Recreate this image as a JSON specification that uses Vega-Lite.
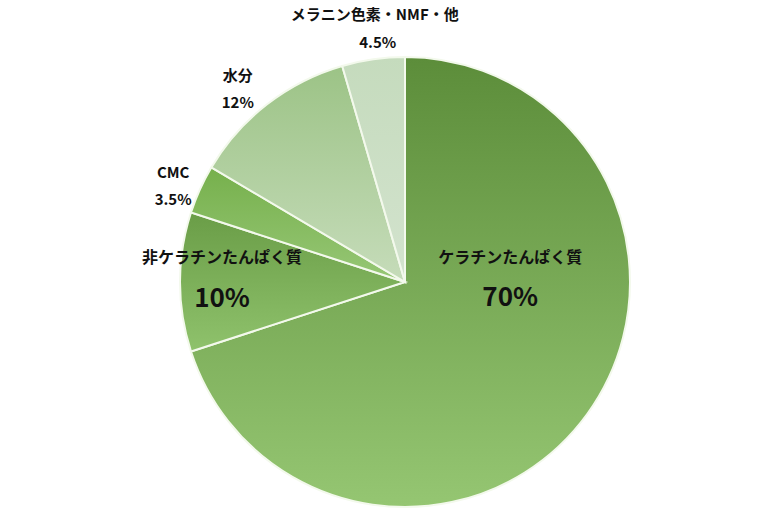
{
  "$schema": "https://vega.github.io/schema/vega-lite/v6.json",
  "description": "毛髪の成分構成",
  "autosize": "none",
  "width": 450,
  "height": 450,
  "padding": {"left": 180, "top": 57, "right": 140, "bottom": 3},
  "background": "white",
  "config": {"view": {"stroke": null}},
  "data": {
    "values": [
      {"成分": "ケラチンたんぱく質", "割合": 0.70, "順": 1},
      {"成分": "非ケラチンたんぱく質", "割合": 0.10, "順": 2},
      {"成分": "CMC", "割合": 0.035, "順": 3},
      {"成分": "水分", "割合": 0.12, "順": 4},
      {"成分": "メラニン色素・NMF・他", "割合": 0.045, "順": 5}
    ]
  },
  "transform": [
    {"stack": "割合", "groupby": [], "sort": [{"field": "順", "order": "ascending"}], "as": ["開始", "終了"]}
  ],
  "layer": [
    {
      "transform": [{"filter": "datum['成分'] === 'ケラチンたんぱく質'"}],
      "mark": {
        "type": "arc", "stroke": "#f3f9ec", "strokeWidth": 2,
        "fill": {"gradient": "linear", "x1": 0, "y1": 0, "x2": 0, "y2": 1,
          "stops": [{"offset": 0, "color": "#5c8d3a"}, {"offset": 1, "color": "#95c672"}]}
      },
      "encoding": {
        "theta": {"field": "開始", "type": "quantitative", "scale": {"domain": [0, 1]}},
        "theta2": {"field": "終了"}
      }
    },
    {
      "transform": [{"filter": "datum['成分'] === '非ケラチンたんぱく質'"}],
      "mark": {
        "type": "arc", "stroke": "#f3f9ec", "strokeWidth": 2,
        "fill": {"gradient": "linear", "x1": 0, "y1": 0, "x2": 0, "y2": 1,
          "stops": [{"offset": 0, "color": "#6a9d47"}, {"offset": 1, "color": "#8fc26c"}]}
      },
      "encoding": {
        "theta": {"field": "開始", "type": "quantitative", "scale": {"domain": [0, 1]}},
        "theta2": {"field": "終了"}
      }
    },
    {
      "transform": [{"filter": "datum['成分'] === 'CMC'"}],
      "mark": {
        "type": "arc", "stroke": "#f3f9ec", "strokeWidth": 2,
        "fill": {"gradient": "linear", "x1": 0, "y1": 0, "x2": 0, "y2": 1,
          "stops": [{"offset": 0, "color": "#76b04c"}, {"offset": 1, "color": "#97c776"}]}
      },
      "encoding": {
        "theta": {"field": "開始", "type": "quantitative", "scale": {"domain": [0, 1]}},
        "theta2": {"field": "終了"}
      }
    },
    {
      "transform": [{"filter": "datum['成分'] === '水分'"}],
      "mark": {
        "type": "arc", "stroke": "#f3f9ec", "strokeWidth": 2,
        "fill": {"gradient": "linear", "x1": 0, "y1": 0, "x2": 0, "y2": 1,
          "stops": [{"offset": 0, "color": "#9cc386"}, {"offset": 1, "color": "#c6dcba"}]}
      },
      "encoding": {
        "theta": {"field": "開始", "type": "quantitative", "scale": {"domain": [0, 1]}},
        "theta2": {"field": "終了"}
      }
    },
    {
      "transform": [{"filter": "datum['成分'] === 'メラニン色素・NMF・他'"}],
      "mark": {
        "type": "arc", "stroke": "#f3f9ec", "strokeWidth": 2,
        "fill": {"gradient": "linear", "x1": 0, "y1": 0, "x2": 0, "y2": 1,
          "stops": [{"offset": 0, "color": "#c5dbbd"}, {"offset": 1, "color": "#d3e3ce"}]}
      },
      "encoding": {
        "theta": {"field": "開始", "type": "quantitative", "scale": {"domain": [0, 1]}},
        "theta2": {"field": "終了"}
      }
    },
    {
      "mark": {"type": "text", "radius": 130, "dy": -100, "font": "Noto Sans CJK JP", "fontSize": 16, "fontWeight": "bold", "color": "#111111"},
      "encoding": {
        "theta": {"field": "割合", "type": "quantitative", "stack": true, "scale": {"domain": [0, 1]}},
        "order": {"field": "順"},
        "text": {"condition": {"test": "datum['成分'] === 'ケラチンたんぱく質'", "field": "成分"}, "value": ""}
      }
    },
    {
      "mark": {"type": "text", "radius": 130, "dy": -60, "font": "Noto Sans CJK JP", "fontSize": 26, "fontWeight": "bold", "color": "#111111"},
      "encoding": {
        "theta": {"field": "割合", "type": "quantitative", "stack": true, "scale": {"domain": [0, 1]}},
        "order": {"field": "順"},
        "text": {"condition": {"test": "datum['成分'] === 'ケラチンたんぱく質'", "field": "割合", "type": "quantitative", "format": ".0%"}, "value": ""}
      }
    },
    {
      "mark": {"type": "text", "radius": 183, "dy": -24, "font": "Noto Sans CJK JP", "fontSize": 16, "fontWeight": "bold", "color": "#111111"},
      "encoding": {
        "theta": {"field": "割合", "type": "quantitative", "stack": true, "scale": {"domain": [0, 1]}},
        "order": {"field": "順"},
        "text": {"condition": {"test": "datum['成分'] === '非ケラチンたんぱく質'", "field": "成分"}, "value": ""}
      }
    },
    {
      "mark": {"type": "text", "radius": 183, "dy": 17, "font": "Noto Sans CJK JP", "fontSize": 26, "fontWeight": "bold", "color": "#111111"},
      "encoding": {
        "theta": {"field": "割合", "type": "quantitative", "stack": true, "scale": {"domain": [0, 1]}},
        "order": {"field": "順"},
        "text": {"condition": {"test": "datum['成分'] === '非ケラチンたんぱく質'", "field": "割合", "type": "quantitative", "format": ".0%"}, "value": ""}
      }
    },
    {
      "mark": {"type": "text", "radius": 250, "dx": -4, "dy": -6, "font": "Noto Sans CJK JP", "fontSize": 15, "fontWeight": "bold", "color": "#111111"},
      "encoding": {
        "theta": {"field": "割合", "type": "quantitative", "stack": true, "scale": {"domain": [0, 1]}},
        "order": {"field": "順"},
        "text": {"condition": {"test": "datum['成分'] === 'CMC'", "field": "成分"}, "value": ""}
      }
    },
    {
      "mark": {"type": "text", "radius": 250, "dx": -4, "dy": 21, "font": "Noto Sans CJK JP", "fontSize": 15, "fontWeight": "bold", "color": "#111111"},
      "encoding": {
        "theta": {"field": "割合", "type": "quantitative", "stack": true, "scale": {"domain": [0, 1]}},
        "order": {"field": "順"},
        "text": {"condition": {"test": "datum['成分'] === 'CMC'", "field": "割合", "type": "quantitative", "format": ".1%"}, "value": ""}
      }
    },
    {
      "mark": {"type": "text", "radius": 250, "dx": -14, "dy": -8, "font": "Noto Sans CJK JP", "fontSize": 15, "fontWeight": "bold", "color": "#111111"},
      "encoding": {
        "theta": {"field": "割合", "type": "quantitative", "stack": true, "scale": {"domain": [0, 1]}},
        "order": {"field": "順"},
        "text": {"condition": {"test": "datum['成分'] === '水分'", "field": "成分"}, "value": ""}
      }
    },
    {
      "mark": {"type": "text", "radius": 250, "dx": -14, "dy": 19, "font": "Noto Sans CJK JP", "fontSize": 15, "fontWeight": "bold", "color": "#111111"},
      "encoding": {
        "theta": {"field": "割合", "type": "quantitative", "stack": true, "scale": {"domain": [0, 1]}},
        "order": {"field": "順"},
        "text": {"condition": {"test": "datum['成分'] === '水分'", "field": "割合", "type": "quantitative", "format": ".0%"}, "value": ""}
      }
    },
    {
      "mark": {"type": "text", "radius": 250, "dx": 5, "dy": -19, "font": "Noto Sans CJK JP", "fontSize": 15, "fontWeight": "bold", "color": "#111111"},
      "encoding": {
        "theta": {"field": "割合", "type": "quantitative", "stack": true, "scale": {"domain": [0, 1]}},
        "order": {"field": "順"},
        "text": {"condition": {"test": "datum['成分'] === 'メラニン色素・NMF・他'", "field": "成分"}, "value": ""}
      }
    },
    {
      "mark": {"type": "text", "radius": 250, "dx": 8, "dy": 9, "font": "Noto Sans CJK JP", "fontSize": 15, "fontWeight": "bold", "color": "#111111"},
      "encoding": {
        "theta": {"field": "割合", "type": "quantitative", "stack": true, "scale": {"domain": [0, 1]}},
        "order": {"field": "順"},
        "text": {"condition": {"test": "datum['成分'] === 'メラニン色素・NMF・他'", "field": "割合", "type": "quantitative", "format": ".1%"}, "value": ""}
      }
    }
  ]
}
